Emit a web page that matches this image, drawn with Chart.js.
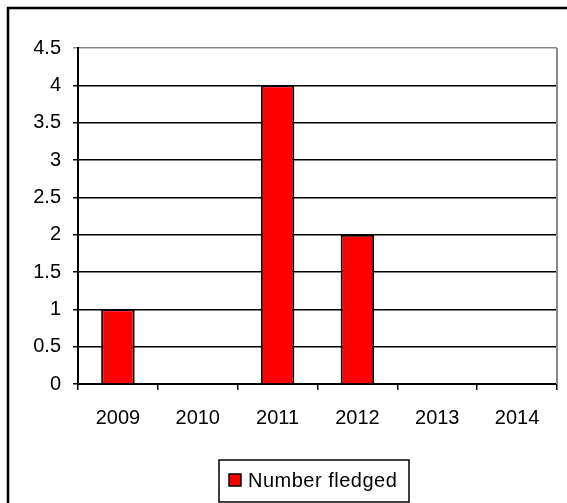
<!DOCTYPE html>
<html>
<head>
<meta charset="utf-8">
<script src="https://cdn.jsdelivr.net/npm/chart.js@4.4.1/dist/chart.umd.min.js"></script>
<style>
  html, body { margin: 0; padding: 0; background: #fff; }
  #wrap { width: 567px; height: 503px; }
</style>
</head>
<body>
<div id="wrap"><canvas id="fledgeChart" width="567" height="503"></canvas></div>
<script>
// values
const years = ['2009', '2010', '2011', '2012', '2013', '2014'];
const numberFledged = [1, 0, 4, 2, 0, 0];
const seriesName = 'Number fledged';
const yTicks = [0, 0.5, 1, 1.5, 2, 2.5, 3, 3.5, 4, 4.5];

const FONT = 'Liberation Sans, Arial, sans-serif';
const SPACING = '0.5px';

// outer frame, gray plot border and the boxed legend
const framePlugin = {
  id: 'frame',
  beforeInit(chart) {
    // the reference text is a little wider than plain Arial
    chart.ctx.letterSpacing = SPACING;
  },
  beforeDraw(chart) {
    const c = chart.ctx;
    c.save();
    c.fillStyle = '#fff';
    c.fillRect(0, 0, chart.width, chart.height);
    c.restore();
  },
  afterDraw(chart) {
    const c = chart.ctx;
    const a = chart.chartArea;
    c.save();
    // outer chart border (cut off at right and bottom)
    c.strokeStyle = '#000';
    c.lineWidth = 2.5;
    c.strokeRect(8, 8, 700, 700);
    // gray plot area edge on the right
    c.strokeStyle = '#888';
    c.lineWidth = 2;
    c.beginPath();
    c.moveTo(a.right, a.top);
    c.lineTo(a.right, a.bottom);
    c.stroke();

    // legend
    const ds = chart.data.datasets[0];
    c.font = '20px ' + FONT;
    c.letterSpacing = SPACING;
    c.textBaseline = 'middle';
    const bx = 219, by = 460, bw = 190, bh = 42;
    c.strokeStyle = '#000';
    c.lineWidth = 1.5;
    c.strokeRect(bx, by, bw, bh);
    c.fillStyle = ds.backgroundColor;
    c.fillRect(229, 474, 12, 12);
    c.strokeRect(229, 474, 12, 12);
    c.fillStyle = '#000';
    c.fillText(ds.label, 248, 481);
    c.restore();
  }
};

const ctx = document.getElementById('fledgeChart').getContext('2d');
new Chart(ctx, {
  type: 'bar',
  data: {
    labels: years,
    datasets: [{
      label: seriesName,
      data: numberFledged,
      backgroundColor: '#ff0000',
      borderColor: '#000',
      borderWidth: 2,
      categoryPercentage: 1,
      barPercentage: 0.42
    }]
  },
  options: {
    responsive: false,
    animation: false,
    devicePixelRatio: 1,
    layout: { padding: { left: 0, top: 48, right: 10, bottom: 119 - 44 } },
    plugins: {
      legend: { display: false },
      tooltip: { enabled: false }
    },
    scales: {
      x: {
        afterFit: s => { s.height = 44; },
        grid: {
          offset: true,
          drawOnChartArea: false,
          drawTicks: true,
          tickLength: 6,
          color: '#000',
          lineWidth: 1.5
        },
        border: { color: '#000', width: 2 },
        ticks: { color: '#000', font: { family: FONT, size: 20 }, padding: 16 }
      },
      y: {
        min: 0,
        max: 4.5,
        afterFit: s => { s.width = 78; },
        afterBuildTicks: s => { s.ticks = yTicks.map(v => ({ value: v })); },
        grid: {
          color: c => (c.tick && c.tick.value === 4.5 ? '#888' : '#000'),
          lineWidth: 1.5,
          tickLength: 5
        },
        border: { color: '#000', width: 2 },
        ticks: {
          color: '#000',
          font: { family: FONT, size: 20 },
          padding: 12,
          callback: v => String(v)
        }
      }
    }
  },
  plugins: [framePlugin]
});
</script>
</body>
</html>
